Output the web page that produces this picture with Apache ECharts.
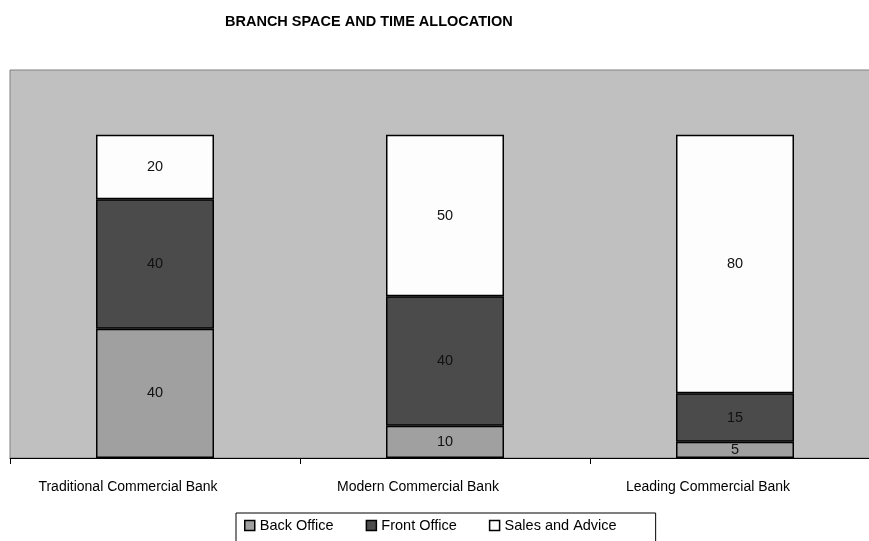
<!DOCTYPE html>
<html><head><meta charset="utf-8">
<script src="https://cdn.jsdelivr.net/npm/echarts@6/dist/echarts.min.js"></script>
<style>html,body{margin:0;padding:0;background:#fff;overflow:hidden;width:869px;height:541px;}#c{width:880px;height:541px;}</style>
</head><body><div id="c"></div>
<script>
const categories = ['Traditional Commercial Bank', 'Modern Commercial Bank', 'Leading Commercial Bank'];
const backOffice = [40, 10, 5];
const frontOffice = [40, 40, 15];
const salesAdvice = [20, 50, 80];
const seriesNames = ['Back Office', 'Front Office', 'Sales and Advice'];

const FONT = '"Liberation Sans Narrow", "Arial Narrow", "Liberation Sans", sans-serif';
const chart = echarts.init(document.getElementById('c'));
const colors = ['#a0a0a0', '#4b4b4b', '#fdfdfd'];
function mk(name, data, color) {
  return {
    name: name, type: 'bar', stack: 'total', data: data, barWidth: 118,
    itemStyle: { color: color, borderColor: '#000', borderWidth: 1.5 },
    label: { show: true, position: 'inside', color: '#111', fontFamily: FONT, fontSize: 14.5 }
  };
}
chart.setOption({
  animation: false,
  backgroundColor: '#fff',
  title: {
    text: 'BRANCH SPACE AND TIME ALLOCATION', left: 220, top: 9,
    textStyle: { fontFamily: FONT, fontSize: 14.5, fontWeight: 'bold', color: '#000' }
  },
  legend: {
    data: seriesNames, left: 236, top: 513,
    padding: [5, 39, 12, 8], itemGap: 32, itemWidth: 10, itemHeight: 10,
    borderColor: '#000', borderWidth: 1, icon: 'rect',
    textStyle: { fontFamily: FONT, fontSize: 14.5, color: '#000' },
    itemStyle: { borderColor: '#000', borderWidth: 1.5 }
  },
  grid: {
    left: 10, top: 70, width: 870, height: 388, show: true,
    backgroundColor: '#c0c0c0', borderColor: '#808080', borderWidth: 1
  },
  xAxis: {
    type: 'category', data: categories,
    axisLine: { lineStyle: { color: '#000', width: 1 } },
    axisTick: { show: true, length: 6, lineStyle: { color: '#000' } },
    axisLabel: { margin: 22, color: '#000', fontFamily: FONT, fontSize: 14, padding: [0, 54, 0, 0] }
  },
  yAxis: { type: 'value', min: 0, max: 120, show: false, splitLine: { show: false } },
  series: [mk(seriesNames[0], backOffice, colors[0]), mk(seriesNames[1], frontOffice, colors[1]), mk(seriesNames[2], salesAdvice, colors[2])]
});
</script></body></html>
